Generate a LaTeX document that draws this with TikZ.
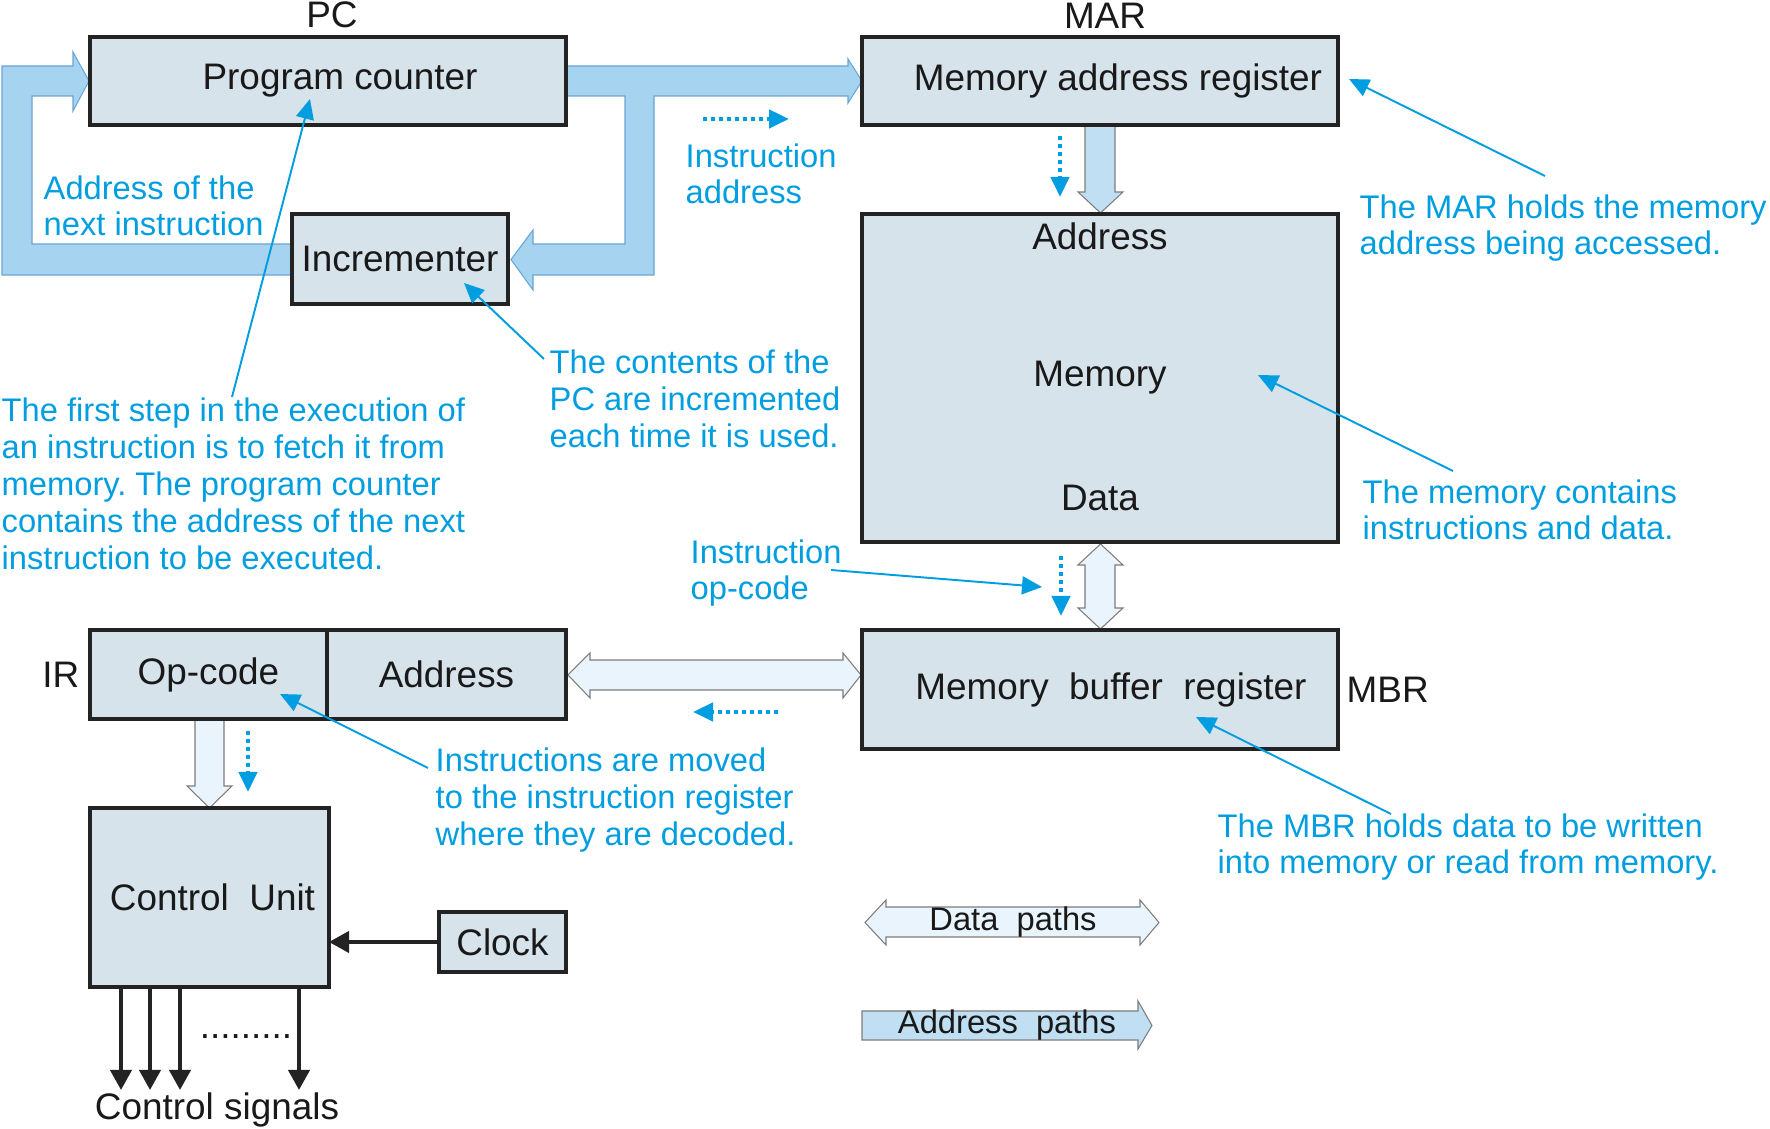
\documentclass[tikz,border=0pt]{standalone}
\usepackage{fontspec}
\setmainfont{Liberation Sans}
\usetikzlibrary{arrows.meta, positioning}

\definecolor{regfill}{RGB}{215,227,235}
\definecolor{regline}{RGB}{35,35,35}
\definecolor{addrfill}{RGB}{166,212,240}
\definecolor{addrline}{RGB}{105,165,212}
\definecolor{addrlight}{RGB}{192,223,243}
\definecolor{datafill}{RGB}{233,244,252}
\definecolor{dataline}{RGB}{125,125,125}
\definecolor{notecol}{RGB}{0,158,224}

\newcommand{\boxfont}{\fontsize{10.5}{12.6}\selectfont}
\newcommand{\notefont}{\fontsize{9.3}{10.5}\selectfont}
\frenchspacing

\begin{document}
\begin{tikzpicture}[
            x=0.1mm, y=-0.1mm,
            regbox/.style={draw=regline, line width=0.4mm, fill=regfill, inner sep=0pt, outer sep=0pt, font=\boxfont, text=black!90},
            textright/.style={execute at begin node={\hspace*{#1}}},
            tag/.style={font=\boxfont, text=black!90, inner sep=0pt},
            % notes are placed by the baseline of their last line
            note/.style={font=\notefont, text=notecol, align=left, anchor=base west, inner sep=0pt},
            leader/.style={draw=notecol, line width=0.55pt, -{Triangle[length=2mm, width=1.8mm]}},
            dotarrow/.style={draw=notecol, line width=0.45mm, dash pattern=on 0.4mm off 0.4mm, -{Triangle[length=2mm, width=1.8mm]}},
            sigarrow/.style={draw=regline, line width=0.4mm, -{Triangle[length=2mm, width=2.1mm]}},
            addrband/.style={fill=addrfill, draw=addrline, line width=0.3pt},
            addrpath/.style={fill=addrlight, draw=dataline, line width=0.3pt},
            datapath/.style={fill=datafill, draw=dataline, line width=0.3pt}
        ]
        \useasboundingbox (0,0) rectangle (1770,1129);

        % address paths round the program counter
        \draw[addrband] (300,244) -- (32,244) -- (32,96) -- (73,96) -- (73,111) -- (89,81) -- (73,52) -- (73,66)
            -- (2,66) -- (2,275) -- (300,275) -- cycle;
        \draw[addrband] (560,66) -- (848,66) -- (848,59) -- (862,81) -- (848,103) -- (848,96) -- (654,96) -- (654,275)
            -- (533,275) -- (533,290) -- (511,259.5) -- (533,230) -- (533,244) -- (625,244) -- (625,96) -- (560,96) -- cycle;
        \draw[addrpath] (1085,125) -- (1085,192) -- (1078,192) -- (1100.5,213) -- (1123,192) -- (1115,192) -- (1115,125) -- cycle;

        % data paths
        \draw[datapath] (1085,565) -- (1078,565) -- (1100.5,544) -- (1123,565) -- (1115,565) -- (1115,608) -- (1123,608)
            -- (1100.5,629) -- (1078,608) -- (1085,608) -- cycle;
        \draw[datapath] (590,660) -- (590,653) -- (568,675) -- (590,698) -- (590,690) -- (843,690) -- (843,698) -- (861,675)
            -- (843,653) -- (843,660) -- cycle;
        \draw[datapath] (195,720) -- (195,786) -- (187,786) -- (209.5,808) -- (232,786) -- (224,786) -- (224,720) -- cycle;

        % registers
        \node[regbox, textright=2.4mm, minimum width=47.6mm, minimum height=8.8mm] (pc) at (328,81) {Program counter};
        \node[regbox, textright=3.6mm, minimum width=47.6mm, minimum height=8.8mm] (mar) at (1100,81) {Memory address register};
        \node[regbox, minimum width=21.6mm, minimum height=9mm] (inc) at (400,259) {Incrementer};
        \node[regbox, minimum width=47.6mm, minimum height=32.8mm] (mem) at (1100,378) {Memory};
        \node[tag, anchor=base] (memaddr) at ([yshift=-3.6mm]mem.north) {Address};
        \node[tag, anchor=base] (memdata) at ([yshift=3.1mm]mem.south) {Data};
        \node[regbox, minimum width=23.7mm, minimum height=8.9mm] (opcode) at (208.5,674.5) {Op-code};
        \node[regbox, minimum width=23.9mm, minimum height=8.9mm, anchor=west] (iraddr) at (opcode.east) {Address};
        \node[regbox, textright=2.2mm, minimum width=47.6mm, minimum height=11.9mm] (mbr) at (1100,689.5) {Memory~~buffer~~register};
        \node[regbox, textright=0.6mm, minimum width=23.9mm, minimum height=17.9mm] (cu) at (209.5,897.5) {Control~~Unit};
        \node[regbox, minimum width=12.7mm, minimum height=6mm] (clock) at (502.5,942) {Clock};

        \node[tag, above=0.8mm of pc, xshift=0.4mm] (pclbl) {PC};
        \node[tag, above=0.8mm of mar, xshift=0.5mm] (marlbl) {MAR};
        \node[tag, left=1mm of opcode] (irlbl) {IR};
        \node[tag, right=0.8mm of mbr] (mbrlbl) {MBR};

        % control unit
        \draw[sigarrow] (clock.west) -- (cu.east |- clock.west);
        \foreach \dx in {3.1,6.0,9.0,20.9}
            \draw[sigarrow] ([xshift=\dx mm]cu.south west) -- ++(0,103);
        \node[tag, anchor=base] (sigdots) at (246,1039) {.........};
        \node[tag, anchor=base] (ctrlsig) at (217,1120) {Control signals};

        % legend
        \draw[datapath] (886,907) -- (886,900) -- (865,922.5) -- (886,945) -- (886,937) -- (1140,937) -- (1140,945)
            -- (1159,922.5) -- (1140,900) -- (1140,907) -- cycle;
        \node[tag, font=\notefont] (datalgd) at (1013,922) {Data~~paths};
        \draw[addrpath] (862,1011) -- (1138,1011) -- (1138,1001) -- (1152,1025.5) -- (1138,1049) -- (1138,1040)
            -- (862,1040) -- cycle;
        \node[tag, font=\notefont] (addrlgd) at (1007,1025) {Address~~paths};

        % notes
        \node[note] (nextaddr) at (43,236) {Address of the\\next instruction};
        \node[note] (fetchnote) at (1,569.5) {The first step in the execution of\\an instruction is to fetch it from\\memory. The program counter\\contains the address of the next\\instruction to be executed.};
        \node[note] (incnote) at (549,447.5) {The contents of the\\PC are incremented\\each time it is used.};
        \node[note] (marnote) at (1359,255) {The MAR holds the memory\\address being accessed.};
        \node[note] (memnote) at (1362,540) {The memory contains\\instructions and data.};
        \node[note] (irnote) at (435,845.5) {Instructions are moved\\to the instruction register\\where they are decoded.};
        \node[note] (mbrnote) at (1217,874) {The MBR holds data to be written\\into memory or read from memory.};
        \node[note] (opnote) at (690,600) {Instruction\\op-code};
        \node[note] (iadnote) at (685,204) {Instruction\\address};

        \coordinate (fetchfrom) at (232,397);  \coordinate (fetchtip) at (310,99);
        \coordinate (incfrom) at (544,359);    \coordinate (inctip) at (464,283);
        \coordinate (marfrom) at (1545,176);   \coordinate (martip) at (1349,79);
        \coordinate (memfrom) at (1453,471);   \coordinate (memtip) at (1258,375);
        \coordinate (irfrom) at (428,768);     \coordinate (irtip) at (280,694);
        \coordinate (mbrfrom) at (1391,814);   \coordinate (mbrtip) at (1196,717);
        \coordinate (opfrom) at (831,570);     \coordinate (optip) at (1042,587);
        \draw[leader] (fetchfrom) -- (fetchtip);
        \draw[leader] (incfrom) -- (inctip);
        \draw[leader] (marfrom) -- (martip);
        \draw[leader] (memfrom) -- (memtip);
        \draw[leader] (irfrom) -- (irtip);
        \draw[leader] (mbrfrom) -- (mbrtip);
        \draw[leader] (opfrom) -- (optip);

        % flow of the instruction
        \coordinate (iadfrom) at (703,119);    \coordinate (iadto) at (789,119);
        \coordinate (mardown) at (1060,136);   \coordinate (memin) at (1060,197);
        \coordinate (memdown) at (1061,556);   \coordinate (mbrin) at (1061,616);
        \coordinate (mbrleft) at (778,712);    \coordinate (irin) at (693,712);
        \coordinate (irdown) at (248,731);     \coordinate (cuin) at (248,792);
        \draw[dotarrow] (iadfrom) -- (iadto);
        \draw[dotarrow] (mardown) -- (memin);
        \draw[dotarrow] (memdown) -- (mbrin);
        \draw[dotarrow] (mbrleft) -- (irin);
        \draw[dotarrow] (irdown) -- (cuin);
    \end{tikzpicture}
\end{document}
